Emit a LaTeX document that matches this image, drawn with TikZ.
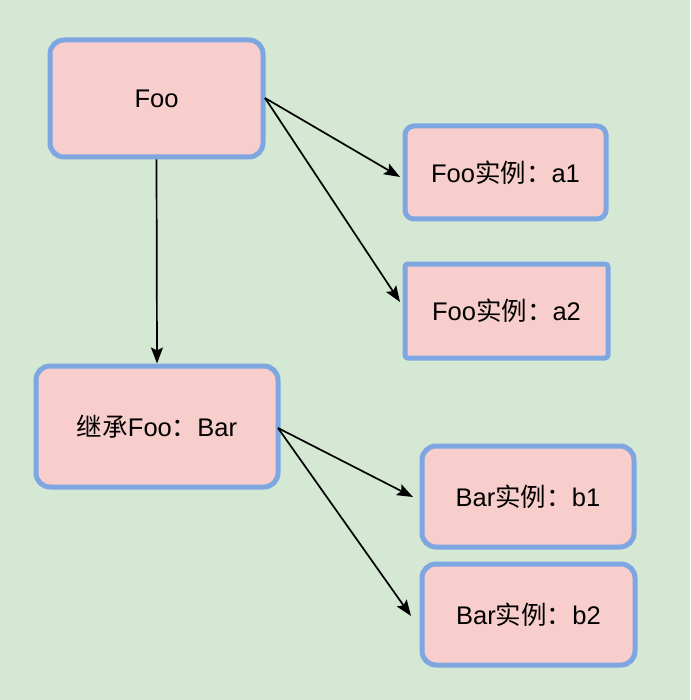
\documentclass[tikz,border=0pt]{standalone}
\usepackage{fontspec}
\setmainfont{Liberation Sans}
\newfontfamily\cjk{Noto Sans CJK SC}
\usetikzlibrary{arrows.meta}
\definecolor{bg}{HTML}{D5E8D4}
\definecolor{boxfill}{HTML}{F8CECC}
\definecolor{boxline}{HTML}{7EA6E0}
\begin{document}
\begin{tikzpicture}[x=1pt,y=-1pt,
  box/.style={draw=boxline, fill=boxfill, line width=5pt, rounded corners=#1,
    inner sep=0pt, font=\fontsize{25.5}{30}\selectfont},
  box/.default=14pt,
  arr/.style={line width=1.7pt, -{Stealth[length=16pt,width=12pt,inset=3pt]}}]
\fill[bg] (0,0) rectangle (690,700);
\useasboundingbox (0,0) rectangle (690,700);
\node[box, minimum width=213pt, minimum height=117pt] (foo) at (156.5,98.5) {Foo};
\node[box=9pt, minimum width=201pt, minimum height=93pt] (a1) at (505.5,172.5) {Foo{\cjk 实例：}a1};
\node[box=3pt, minimum width=203pt, minimum height=94pt] (a2) at (506.5,311) {Foo{\cjk 实例：}a2};
\node[box, minimum width=242pt, minimum height=121pt] (bar) at (157,426.5) {{\cjk 继承}Foo{\cjk ：}Bar};
\node[box, minimum width=212pt, minimum height=101pt] (b1) at (528,496.5) {Bar{\cjk 实例：}b1};
\node[box, minimum width=213pt, minimum height=101pt] (b2) at (528.5,614.5) {Bar{\cjk 实例：}b2};
\coordinate (fooR) at (265,98);
\coordinate (barR) at (278,428);
\coordinate (a1in) at (400,177);
\coordinate (a2in) at (400,302);
\coordinate (b1in) at (413,497);
\coordinate (b2in) at (411,616);
\draw[arr] (fooR) -- (a1in);
\draw[arr] (fooR) -- (a2in);
\draw[arr] (foo.south) -- (bar.north);
\draw[arr] (barR) -- (b1in);
\draw[arr] (barR) -- (b2in);
\end{tikzpicture}
\end{document}
